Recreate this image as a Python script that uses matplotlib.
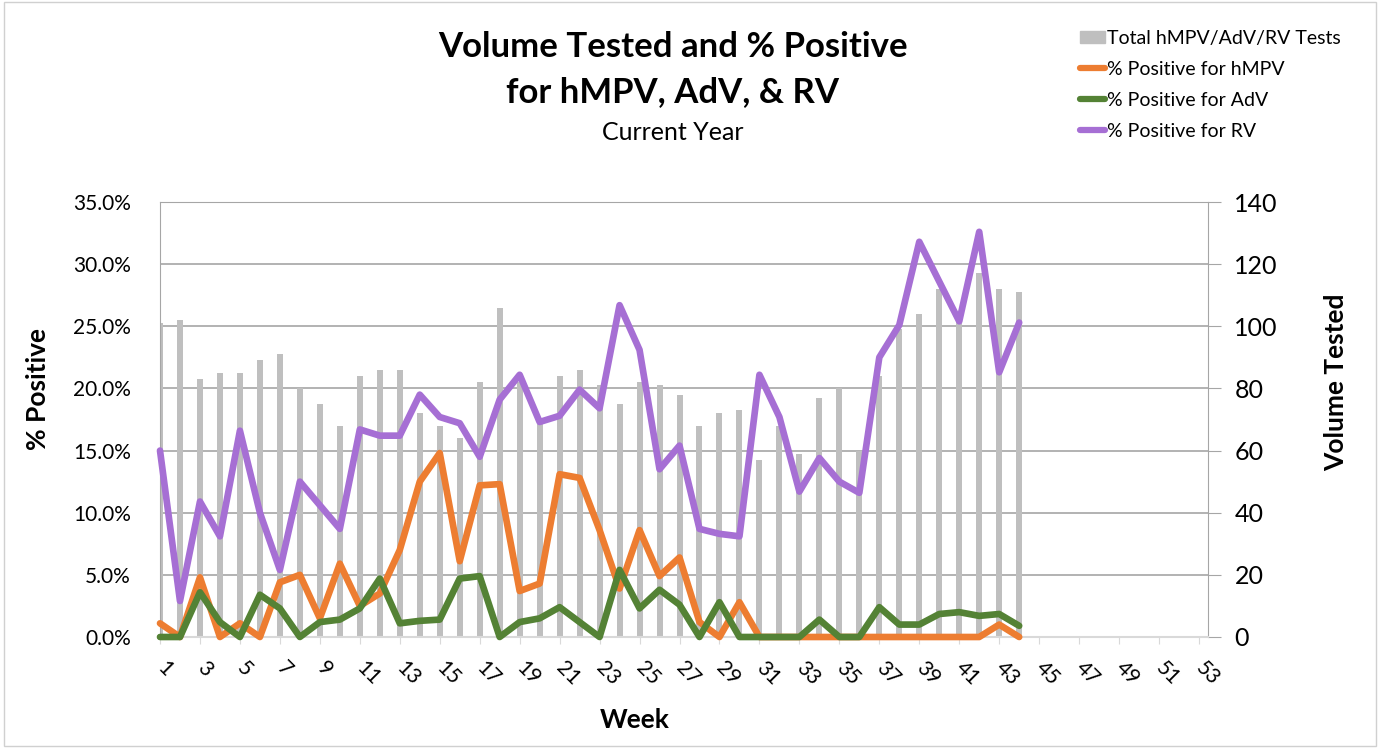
import matplotlib
matplotlib.use('Agg')
import matplotlib.pyplot as plt
from matplotlib.patches import Patch, Rectangle
from matplotlib.lines import Line2D
from matplotlib.ticker import FuncFormatter
from matplotlib.transforms import ScaledTranslation

plt.rcParams['font.family'] = ['Lato', 'DejaVu Sans']

# Weekly data (weeks 1-44 reported so far)
weeks = list(range(1, 45))
total_tests = [101, 102, 83, 85, 85, 89, 91, 80, 75, 68,
               84, 86, 86, 72, 68, 64, 82, 106, 82, 70,
               84, 86, 81, 75, 82, 81, 78, 68, 72, 73,
               57, 68, 59, 77, 80, 60, 84, 99, 104, 112,
               102, 117, 112, 111]
pct_hmpv = [1.1, 0.0, 4.8, 0.0, 1.1, 0.0, 4.4, 5.0, 1.5, 5.9,
            2.5, 3.5, 7.0, 12.5, 14.8, 6.1, 12.2, 12.3, 3.7, 4.3,
            13.1, 12.8, 8.6, 3.9, 8.6, 4.9, 6.4, 1.2, 0.0, 2.8,
            0.0, 0.0, 0.0, 0.0, 0.0, 0.0, 0.0, 0.0, 0.0, 0.0,
            0.0, 0.0, 1.0, 0.0]
pct_adv = [0.0, 0.0, 3.6, 1.2, 0.0, 3.4, 2.3, 0.0, 1.2, 1.4,
           2.3, 4.7, 1.1, 1.3, 1.4, 4.7, 4.9, 0.0, 1.2, 1.5,
           2.4, 1.2, 0.0, 5.4, 2.3, 3.8, 2.6, 0.0, 2.8, 0.0,
           0.0, 0.0, 0.0, 1.4, 0.0, 0.0, 2.4, 1.0, 1.0, 1.85,
           2.0, 1.7, 1.85, 0.9]
pct_rv = [15.0, 2.9, 10.9, 8.1, 16.6, 10.0, 5.4, 12.5, 10.6, 8.7,
          16.7, 16.2, 16.2, 19.5, 17.7, 17.2, 14.5, 19.1, 21.1, 17.3,
          17.8, 19.9, 18.4, 26.7, 23.1, 13.5, 15.4, 8.7, 8.3, 8.1,
          21.1, 17.7, 11.7, 14.4, 12.5, 11.6, 22.5, 25.1, 31.8, 28.6,
          25.4, 32.6, 21.3, 25.3]
week_ticks = list(range(1, 54, 2))

c_bar = '#bfbfbf'
c_hmpv = '#ed7d31'
c_adv = '#548235'
c_rv = '#a66fd4'
c_grid = '#a6a6a6'

W, H = 1380, 748
fig = plt.figure(figsize=(13.8, 7.48), dpi=100)
fig.patches.append(Rectangle((0.003, 0.003), 0.994, 0.994, transform=fig.transFigure,
                             fill=False, edgecolor='#d0d0d0', lw=1))

ax = fig.add_axes([160 / W, 111 / H, 1048 / W, 435 / H])
ax2 = ax.twinx()

# bars on the base axes (drawn first), scale on the right
ax.bar(weeks, total_tests, width=0.3, color=c_bar, zorder=2)
ax.set_xlim(1, 53.45)
ax.set_ylim(0, 140)
ax.set_yticks(range(0, 141, 20))
ax.yaxis.tick_right()
ax.grid(axis='y', color=c_grid, lw=1.2)
ax.set_axisbelow(True)
ax.tick_params(axis='y', length=9, color=c_grid, labelsize=18, pad=10)

ax.set_xticks(week_ticks)
ax.set_xticklabels([str(w) for w in week_ticks], rotation=-45, ha='left')
ax.tick_params(axis='x', length=5, color='#d9d9d9', labelsize=15, pad=10)
shift = ScaledTranslation(-7 / 100, 0, fig.dpi_scale_trans)
for lab in ax.get_xticklabels():
    lab.set_transform(lab.get_transform() + shift)

for s in ['left', 'right', 'top']:
    ax.spines[s].set_color(c_grid)
ax.spines['bottom'].set_color('#d9d9d9')
ax.spines['bottom'].set_linewidth(1.5)

# percent lines on the twin axes, scale on the left
ax2.yaxis.tick_left()
for data, col in [(pct_rv, c_rv), (pct_hmpv, c_hmpv), (pct_adv, c_adv)]:
    ax2.plot(weeks, data, color=col, lw=4.8, solid_capstyle='round',
             solid_joinstyle='round', clip_on=False)
ax2.set_ylim(0, 35)
ax2.set_yticks([0, 5, 10, 15, 20, 25, 30, 35])
ax2.yaxis.set_major_formatter(FuncFormatter(lambda v, p: f'{v:.1f}%'))
ax2.tick_params(axis='y', length=0, labelsize=15, pad=21)
for s in ax2.spines.values():
    s.set_visible(False)

# axis titles
fig.text(38 / W, 1 - 389 / H, '% Positive', rotation=90, ha='center', va='center',
         fontsize=19, fontweight='bold')
fig.text(1336 / W, 1 - 382 / H, 'Volume Tested', rotation=90, ha='center', va='center',
         fontsize=19, fontweight='bold')
fig.text(635 / W, 1 - 720 / H, 'Week', ha='center', va='center',
         fontsize=19, fontweight='bold')

fig.text(673 / W, 1 - 47 / H, 'Volume Tested and % Positive',
         ha='center', va='center', fontsize=25, fontweight='bold')
fig.text(673 / W, 1 - 92 / H, 'for hMPV, AdV, & RV',
         ha='center', va='center', fontsize=25, fontweight='bold')
fig.text(673 / W, 1 - 132 / H, 'Current Year', ha='center', va='center', fontsize=18)

handles = [Patch(color=c_bar),
           Line2D([], [], color=c_hmpv, lw=4.5, solid_capstyle='round'),
           Line2D([], [], color=c_adv, lw=4.5, solid_capstyle='round'),
           Line2D([], [], color=c_rv, lw=4.5, solid_capstyle='round')]
labels = ['Total hMPV/AdV/RV Tests', '% Positive for hMPV',
          '% Positive for AdV', '% Positive for RV']
fig.legend(handles, labels, loc='upper left', bbox_to_anchor=(1080 / W, 1 - 30 / H),
           frameon=False, fontsize=14, handlelength=1.3, handleheight=0.6,
           handletextpad=0.1, labelspacing=0.72, borderaxespad=0, borderpad=0)

fig.savefig('out.png', dpi=100)
